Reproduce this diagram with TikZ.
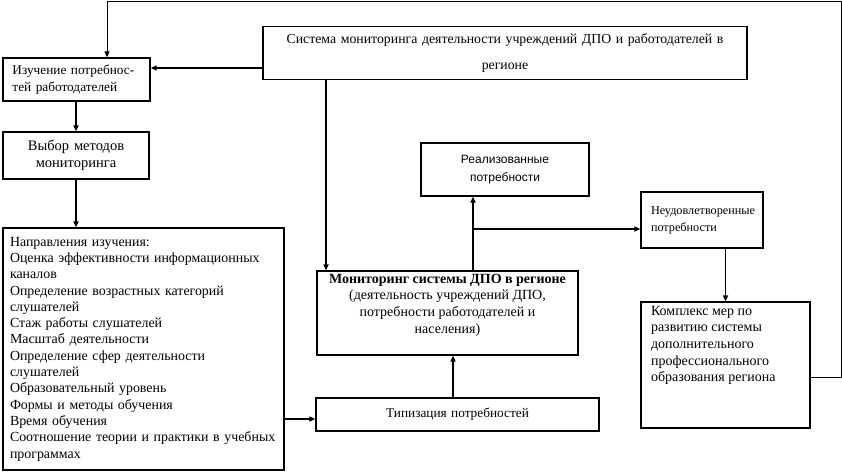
\documentclass[tikz,border=0pt]{standalone}
\usepackage{fontspec}
\setmainfont{Liberation Serif}
\setsansfont{Liberation Sans}
\usetikzlibrary{arrows.meta}
\newcommand{\fsz}[2]{\fontsize{#1}{#2}\selectfont}
\tikzset{
    blk/.style={draw=black, line width=1.2pt, inner sep=0pt, font=\fsz{12.8}{16.3}},
    arr/.style={draw=black, line width=1.6pt, -{Triangle[length=6pt,width=5pt]}},
    back/.style={draw=black, line width=1pt, -{Triangle[length=6pt,width=5pt]}}
}
\begin{document}
\begin{tikzpicture}[x=1pt,y=-1pt]
    \useasboundingbox (0,0) rectangle (842,472);

    % boxes
    \node[blk, minimum width=484pt, minimum height=53pt, text width=470pt, align=center, font=\fsz{13.8}{16}] (sys) at (505,53)
        {Система мониторинга деятельности учреждений ДПО и работодателей в\\[10pt]регионе};
    \node[blk, minimum width=147pt, minimum height=43pt, text width=128pt, align=left, font=\fsz{13.3}{17}] (izuch) at (76.5,79.5)
        {Изучение потребнос-\\тей работодателей};
    \node[blk, minimum width=146pt, minimum height=47pt, text width=130pt, align=center, font=\fsz{14.5}{17}] (vybor) at (76,155.5)
        {Выбор методов\\мониторинга};
    \node[blk, minimum width=281pt, minimum height=242pt, text width=267pt, align=left, font=\fsz{13.9}{16.3}] (napr) at (143.5,349)
        {Направления изучения:\\
        Оценка эффективности информационных\\каналов\\
        Определение возрастных категорий\\слушателей\\
        Стаж работы слушателей\\
        Масштаб деятельности\\
        Определение сфер деятельности\\слушателей\\
        Образовательный уровень\\
        Формы и методы обучения\\
        Время обучения\\
        Соотношение теории и практики в учебных\\программах};
    \node[blk, minimum width=261pt, minimum height=84pt, font=\fsz{14}{16.7}] (monit) at (447.5,313)
        {\parbox[c][78pt][t]{250pt}{\centering\textbf{Мониторинг системы ДПО в регионе}\\
        (деятельность учреждений ДПО,\\потребности работодателей и\\населения)}};
    \node[blk, minimum width=168pt, minimum height=53pt, text width=150pt, align=center,
        font=\sffamily\fsz{12}{18}] (real) at (505,169.5)
        {Реализованные\\потребности};
    \node[blk, minimum width=122pt, minimum height=56pt, text width=102pt, align=left, font=\fsz{12.2}{17}] (neud) at (702,220)
        {Неудовлетворенные\\потребности};
    \node[blk, minimum width=169pt, minimum height=126pt, font=\fsz{14}{16.7}] (kompl) at (725.5,365)
        {\parbox[c][118pt][t]{149pt}{Комплекс мер по\\развитию системы\\дополнительного\\профессионального\\образования региона}};
    \node[blk, minimum width=283pt, minimum height=33pt, text width=270pt, align=center, font=\fsz{13.3}{16}] (tip) at (457.5,414.5)
        {Типизация потребностей};

    % turning points
    \coordinate (c1) at (326,0);
    \coordinate (c2) at (0,68);
    \coordinate (c3) at (473,229);
    \coordinate (c4) at (0,419);
    \coordinate (c5) at (453,0);
    \coordinate (c6) at (841,377);
    \coordinate (c7) at (107,1.5);

    % arrows
    \draw[arr] (sys.west |- c2) -- (izuch.east |- c2);
    \draw[arr] (sys.south -| c1) -- (monit.north -| c1);
    \draw[arr] (izuch.south -| vybor.north) -- (vybor.north);
    \draw[arr] (vybor.south) -- (napr.north -| vybor.south);
    \draw[arr] (monit.north -| c3) -- (real.south -| c3);
    \draw[arr] (c3) -- (neud.west |- c3);
    \draw[arr] (neud.south -| kompl.north) -- (kompl.north);
    \draw[arr] (napr.east |- c4) -- (tip.west |- c4);
    \draw[arr] (tip.north -| c5) -- (monit.south -| c5);
    \draw[back] (kompl.east |- c6) -- (c6) |- (c7) -- (izuch.north -| c7);
\end{tikzpicture}
\end{document}
